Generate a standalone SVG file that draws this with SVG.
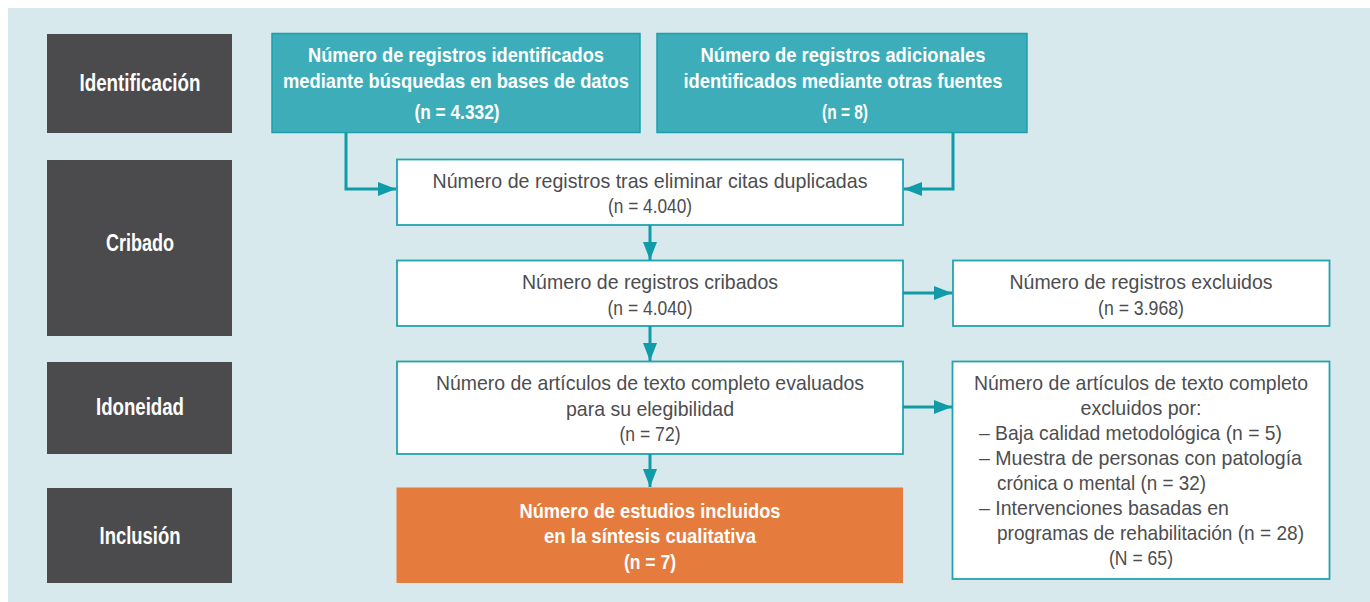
<svg xmlns="http://www.w3.org/2000/svg" width="1370" height="602" viewBox="0 0 1370 602">
<defs>
<style>
.bg{fill:#d8e9ee}
.stage{fill:#4b4b4d}
.teal{fill:#3dadb9;stroke:#1ba0ac;stroke-width:1.5}
.wbox{fill:#ffffff;stroke:#22a3ae;stroke-width:1.8}
.orange{fill:#e57b3c}
.lbl{font-family:"Liberation Sans",Arial,sans-serif;font-weight:bold;font-size:23px;fill:#ffffff;text-anchor:middle}
.bt{font-family:"Liberation Sans",Arial,sans-serif;font-weight:bold;font-size:21px;fill:#ffffff;text-anchor:middle}
.t{font-family:"Liberation Sans",Arial,sans-serif;font-size:21px;fill:#4d4d4f;text-anchor:middle}
.tl{font-family:"Liberation Sans",Arial,sans-serif;font-size:21px;fill:#4d4d4f;text-anchor:start}
.conn{fill:none;stroke:#0f9ba7;stroke-width:3;marker-end:url(#ah)}
</style>
<marker id="ah" viewBox="0 0 18 14" refX="18" refY="7" markerWidth="18" markerHeight="14" markerUnits="userSpaceOnUse" orient="auto">
<path d="M0,0 L18,7 L0,14 z" fill="#0f9ba7"/>
</marker>
</defs>
<rect class="bg" x="8" y="8" width="1362" height="594"/>

<g id="stage-identificacion">
<rect class="stage" x="47" y="34" width="185" height="99"/>
<text class="lbl" x="140" y="91" textLength="121" lengthAdjust="spacingAndGlyphs">Identificación</text>
</g>
<g id="stage-cribado">
<rect class="stage" x="47" y="160" width="185" height="176"/>
<text class="lbl" x="140" y="251" textLength="68" lengthAdjust="spacingAndGlyphs">Cribado</text>
</g>
<g id="stage-idoneidad">
<rect class="stage" x="47" y="362" width="185" height="92"/>
<text class="lbl" x="140" y="415" textLength="88" lengthAdjust="spacingAndGlyphs">Idoneidad</text>
</g>
<g id="stage-inclusion">
<rect class="stage" x="47" y="488" width="185" height="95"/>
<text class="lbl" x="140" y="544" textLength="81" lengthAdjust="spacingAndGlyphs">Inclusión</text>
</g>

<g id="node-bases-datos">
<rect class="teal" x="272" y="33.5" width="368" height="99"/>
<text class="bt" x="456" y="62" textLength="296" lengthAdjust="spacingAndGlyphs">Número de registros identificados</text>
<text class="bt" x="456" y="88" textLength="346" lengthAdjust="spacingAndGlyphs">mediante búsquedas en bases de datos</text>
<text class="bt" x="457" y="119" textLength="85" lengthAdjust="spacingAndGlyphs">(n = 4.332)</text>
</g>
<g id="node-otras-fuentes">
<rect class="teal" x="657" y="33.5" width="370" height="99"/>
<text class="bt" x="843" y="62" textLength="285" lengthAdjust="spacingAndGlyphs">Número de registros adicionales</text>
<text class="bt" x="843" y="88" textLength="319" lengthAdjust="spacingAndGlyphs">identificados mediante otras fuentes</text>
<text class="bt" x="845" y="119" textLength="46" lengthAdjust="spacingAndGlyphs">(n = 8)</text>
</g>

<g id="node-sin-duplicados">
<rect class="wbox" x="397" y="159.5" width="506" height="65.5"/>
<text class="t" x="650" y="188" textLength="435" lengthAdjust="spacingAndGlyphs">Número de registros tras eliminar citas duplicadas</text>
<text class="t" x="650" y="213" textLength="84" lengthAdjust="spacingAndGlyphs">(n = 4.040)</text>
</g>
<g id="node-cribados">
<rect class="wbox" x="397" y="260.5" width="506" height="65.5"/>
<text class="t" x="650" y="289" textLength="256" lengthAdjust="spacingAndGlyphs">Número de registros cribados</text>
<text class="t" x="650" y="315" textLength="85" lengthAdjust="spacingAndGlyphs">(n = 4.040)</text>
</g>
<g id="node-excluidos">
<rect class="wbox" x="953" y="260.5" width="376.5" height="65.5"/>
<text class="t" x="1141" y="289" textLength="263" lengthAdjust="spacingAndGlyphs">Número de registros excluidos</text>
<text class="t" x="1141" y="315" textLength="86" lengthAdjust="spacingAndGlyphs">(n = 3.968)</text>
</g>
<g id="node-texto-completo">
<rect class="wbox" x="397" y="361.5" width="506" height="92.5"/>
<text class="t" x="650" y="390" textLength="428" lengthAdjust="spacingAndGlyphs">Número de artículos de texto completo evaluados</text>
<text class="t" x="650" y="416" textLength="168" lengthAdjust="spacingAndGlyphs">para su elegibilidad</text>
<text class="t" x="650" y="441" textLength="61" lengthAdjust="spacingAndGlyphs">(n = 72)</text>
</g>
<g id="node-excluidos-texto">
<rect class="wbox" x="952.5" y="361.5" width="377" height="217.5"/>
<text class="t" x="1141" y="390" textLength="334" lengthAdjust="spacingAndGlyphs">Número de artículos de texto completo</text>
<text class="t" x="1141" y="415" textLength="121" lengthAdjust="spacingAndGlyphs">excluidos por:</text>
<text class="tl" x="979" y="440" textLength="303" lengthAdjust="spacingAndGlyphs">– Baja calidad metodológica (n = 5)</text>
<text class="tl" x="979" y="465" textLength="323" lengthAdjust="spacingAndGlyphs">– Muestra de personas con patología</text>
<text class="tl" x="997" y="490" textLength="209" lengthAdjust="spacingAndGlyphs">crónica o mental (n = 32)</text>
<text class="tl" x="979" y="515" textLength="250" lengthAdjust="spacingAndGlyphs">– Intervenciones basadas en</text>
<text class="tl" x="997" y="540" textLength="307" lengthAdjust="spacingAndGlyphs">programas de rehabilitación (n = 28)</text>
<text class="t" x="1141" y="565" textLength="64" lengthAdjust="spacingAndGlyphs">(N = 65)</text>
</g>
<g id="node-incluidos">
<rect class="orange" x="396.5" y="487.5" width="506.5" height="95.5"/>
<text class="bt" x="650" y="518" textLength="261" lengthAdjust="spacingAndGlyphs">Número de estudios incluidos</text>
<text class="bt" x="650" y="543" textLength="212" lengthAdjust="spacingAndGlyphs">en la síntesis cualitativa</text>
<text class="bt" x="650" y="569" textLength="52" lengthAdjust="spacingAndGlyphs">(n = 7)</text>
</g>

<g id="connectors">
<path class="conn" d="M346,133 V189 H396"/>
<path class="conn" d="M953,133 V189 H904"/>
<path class="conn" d="M650,225 V260"/>
<path class="conn" d="M903,293 H952"/>
<path class="conn" d="M650,326 V361"/>
<path class="conn" d="M903,407 H952"/>
<path class="conn" d="M650,454 V487"/>
</g>
</svg>
